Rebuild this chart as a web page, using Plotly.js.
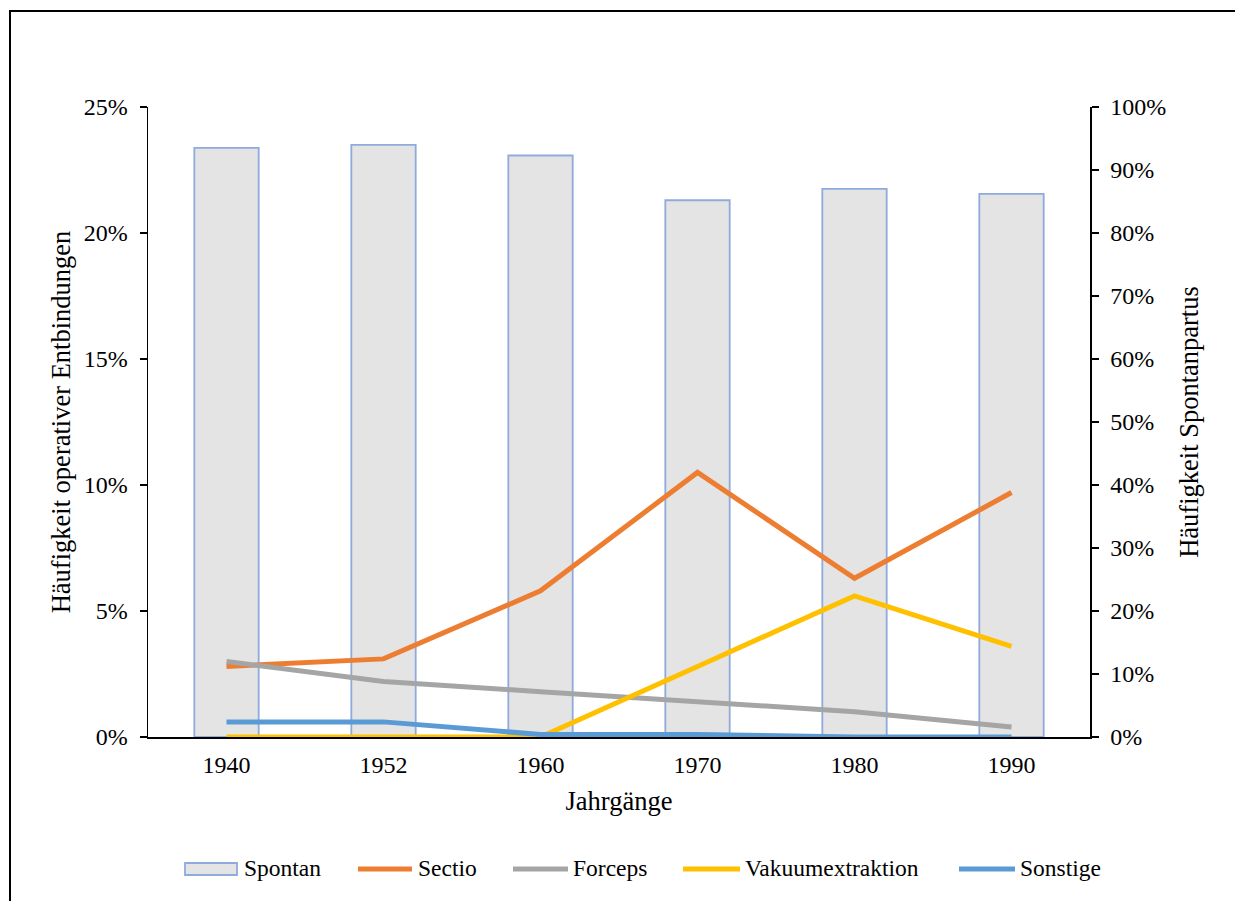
<!DOCTYPE html>
<html>
<head>
<meta charset="utf-8">
<script src="https://cdn.plot.ly/plotly-3.0.1.min.js"></script>
<style>
  html, body { margin: 0; padding: 0; background: #fff; overflow: hidden; }
  #chart { width: 1235px; height: 901px; }
</style>
</head>
<body>
<div id="chart"></div>
<script>
// Birth cohorts (Jahrgänge)
const years = ['1940', '1952', '1960', '1970', '1980', '1990'];

// Share of spontaneous births (right axis)
const spontan = [0.935, 0.940, 0.923, 0.852, 0.870, 0.862];

// Shares of operative deliveries (left axis)
const sectio = [0.028, 0.031, 0.058, 0.105, 0.063, 0.097];
const forceps = [0.030, 0.022, 0.018, 0.014, 0.010, 0.004];
const vakuum = [0.000, 0.000, 0.000, 0.028, 0.056, 0.036];
const sonstige = [0.006, 0.006, 0.001, 0.001, 0.000, 0.000];

const serif = "'Liberation Serif', 'Times New Roman', serif";

// Plot area in pixels, used to place the legend row and chart frame
const W = 1235, H = 901;
const M = { l: 148, r: 145, t: 107, b: 164 };
const plotW = W - M.l - M.r, plotH = H - M.t - M.b;
const px = v => (v - M.l) / plotW;
const py = v => (H - M.b - v) / plotH;

const colors = {
  Spontan: '#E4E4E4', SpontanEdge: '#8FAADC',
  Sectio: '#ED7D31', Forceps: '#A5A5A5',
  Vakuumextraktion: '#FFC000', Sonstige: '#5B9BD5'
};

function lineTrace(name, values) {
  return {
    type: 'scatter', mode: 'lines', name: name,
    x: years, y: values, xaxis: 'x', yaxis: 'y2',
    line: { color: colors[name], width: 5 },
    hoverinfo: 'skip'
  };
}

// Bars sit on the base axis (right side); lines on the overlaying axis so they are drawn on top
const traces = [
  {
    type: 'bar', name: 'Spontan', x: years, y: spontan,
    xaxis: 'x', yaxis: 'y',
    marker: { color: colors.Spontan, line: { color: colors.SpontanEdge, width: 1.8 } },
    hoverinfo: 'skip'
  },
  lineTrace('Sectio', sectio),
  lineTrace('Forceps', forceps),
  lineTrace('Vakuumextraktion', vakuum),
  lineTrace('Sonstige', sonstige)
];

// Legend row: key geometry and label start, in pixels
const legendY = 869;
const legendItems = [
  { name: 'Spontan', kind: 'box', x0: 185, x1: 237, tx: 242 },
  { name: 'Sectio', kind: 'line', x0: 358, x1: 412, tx: 416 },
  { name: 'Forceps', kind: 'line', x0: 513, x1: 568, tx: 571 },
  { name: 'Vakuumextraktion', kind: 'line', x0: 683, x1: 740, tx: 743 },
  { name: 'Sonstige', kind: 'line', x0: 959, x1: 1015, tx: 1018 }
];

const shapes = [
  // outer chart frame
  { type: 'rect', xref: 'paper', yref: 'paper', x0: px(10), x1: px(1300), y0: py(1000), y1: py(11),
    line: { color: '#000', width: 2 }, fillcolor: 'rgba(0,0,0,0)', layer: 'below' }
];
const annotations = [];
legendItems.forEach(it => {
  if (it.kind === 'box') {
    shapes.push({ type: 'rect', xref: 'paper', yref: 'paper',
      x0: px(it.x0), x1: px(it.x1), y0: py(legendY + 6), y1: py(legendY - 6),
      fillcolor: colors.Spontan, line: { color: colors.SpontanEdge, width: 1.8 } });
  } else {
    shapes.push({ type: 'line', xref: 'paper', yref: 'paper',
      x0: px(it.x0), x1: px(it.x1), y0: py(legendY), y1: py(legendY),
      line: { color: colors[it.name], width: 5 } });
  }
  annotations.push({ xref: 'paper', yref: 'paper', x: px(it.tx), y: py(legendY - 1),
    xanchor: 'left', yanchor: 'middle', showarrow: false, text: it.name,
    font: { family: serif, size: 23.5, color: '#000' } });
});

const layout = {
  width: W, height: H,
  margin: M,
  paper_bgcolor: '#fff', plot_bgcolor: '#fff',
  font: { family: serif, size: 24, color: '#000' },
  bargap: 0.59,
  showlegend: false,
  xaxis: {
    type: 'category', showline: true, linecolor: '#000', linewidth: 1.5,
    ticks: '', showgrid: false, zeroline: false, layer: 'below traces',
    ticklabelstandoff: 6,
    tickfont: { family: serif, size: 24, color: '#000' },
    title: { text: 'Jahrgänge', font: { family: serif, size: 26.5, color: '#000' }, standoff: 14 }
  },
  yaxis: {
    side: 'right', range: [0, 1], dtick: 0.1, tickformat: '.0%',
    showline: true, linecolor: '#000', linewidth: 1.5,
    ticks: 'outside', ticklen: 7, tickwidth: 1.5, tickcolor: '#000',
    showgrid: false, zeroline: false, ticklabelstandoff: 7,
    tickfont: { family: serif, size: 24, color: '#000' },
    title: { text: 'Häufigkeit Spontanpartus', font: { family: serif, size: 26.5, color: '#000' }, standoff: 14 }
  },
  yaxis2: {
    overlaying: 'y', side: 'left', range: [0, 0.25], dtick: 0.05, tickformat: '.0%',
    showline: true, linecolor: '#000', linewidth: 1.5,
    ticks: 'outside', ticklen: 7, tickwidth: 1.5, tickcolor: '#000',
    showgrid: false, zeroline: false, layer: 'below traces', ticklabelstandoff: 7,
    tickfont: { family: serif, size: 24, color: '#000' },
    title: { text: 'Häufigkeit operativer Entbindungen', font: { family: serif, size: 26.5, color: '#000' }, standoff: 5 }
  },
  shapes: shapes,
  annotations: annotations
};

Plotly.newPlot('chart', traces, layout, { displayModeBar: false, staticPlot: true });
</script>
</body>
</html>
